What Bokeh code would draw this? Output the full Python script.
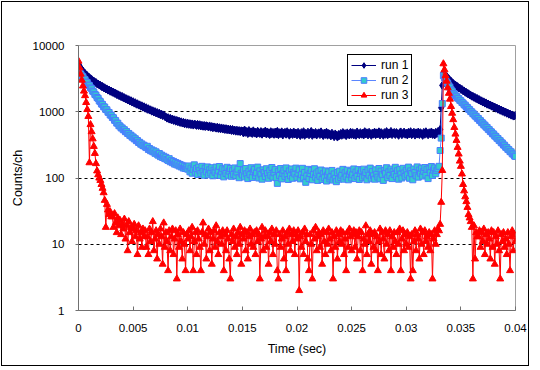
from bokeh.plotting import figure
from bokeh.models import (Range1d, FixedTicker, CustomJSTickFormatter, Legend,
                          LegendItem, Label, ColumnDataSource)
from bokeh.embed import file_html
from bokeh.resources import INLINE

FONT = "Liberation Sans"
TITLE = "2009/3/4  FFAG-KUCA ADS Experiment"
BIN = 0.0001  # time bin width (sec)

x_ticks = [0, 0.005, 0.01, 0.015, 0.02, 0.025, 0.03, 0.035, 0.04]
y_ticks = [1, 10, 100, 1000, 10000]
grid_ticks = [10, 100, 1000]

run1 = [
    5200, 4820, 4600, 4290, 4120, 3890, 3790, 3580, 3510, 3330,
    3280, 3140, 3080, 2930, 2910, 2780, 2760, 2640, 2620, 2530,
    2510, 2400, 2410, 2310, 2300, 2210, 2210, 2120, 2130, 2040,
    2050, 1970, 1970, 1900, 1900, 1820, 1820, 1760, 1750, 1690,
    1700, 1630, 1630, 1570, 1570, 1510, 1520, 1450, 1470, 1400,
    1420, 1350, 1370, 1300, 1320, 1260, 1270, 1210, 1230, 1170,
    1190, 1130, 1150, 1090, 1110, 1060, 1070, 1020, 1035, 990,
    1005, 960, 975, 930, 950, 900, 920, 875, 895, 850,
    835, 800, 815, 775, 795, 755, 775, 740, 755, 720,
    740, 705, 722, 690, 705, 675, 692, 660, 680, 650,
    672, 645, 661, 638, 655, 629, 650, 641, 622, 645,
    618, 637, 610, 625, 604, 622, 598, 615, 606, 590,
    611, 584, 598, 572, 590, 580, 566, 585, 560, 574,
    552, 570, 548, 561, 540, 556, 535, 548, 530, 545,
    522, 540, 515, 530, 509, 527, 506, 520, 500, 516,
    512, 478, 530, 489, 505, 468, 521, 482, 497, 470,
    515, 476, 492, 462, 508, 484, 470, 502, 458, 490,
    478, 510, 461, 495, 472, 452, 500, 467, 488, 456,
    493, 461, 506, 450, 482, 470, 497, 445, 476, 489,
    458, 500, 468, 443, 486, 472, 455, 495, 462, 478,
    447, 490, 466, 438, 484, 455, 500, 441, 472, 460,
    492, 449, 470, 505, 440, 478, 459, 487, 445, 468,
    481, 452, 497, 462, 437, 476, 455, 490, 443, 470,
    458, 432, 475, 448, 420, 462, 440, 415, 453, 437,
    470, 441, 486, 452, 468, 436, 480, 458, 446, 490,
    455, 483, 447, 472, 440, 495, 461, 450, 484, 458,
    476, 445, 500, 462, 481, 447, 490, 466, 440, 478,
    459, 492, 451, 480, 463, 498, 446, 485, 467, 442,
    484, 457, 502, 448, 479, 463, 505, 452, 475, 488,
    453, 486, 466, 441, 482, 496, 450, 470, 493, 458,
    475, 447, 489, 462, 500, 451, 473, 491, 444, 480,
    460, 494, 452, 483, 466, 440, 488, 457, 499, 471,
    449, 482, 463, 495, 455, 476, 446, 490, 468, 502,
    480, 540, 1150, 2500,
    3900, 3720, 3540, 3400, 3230, 3120, 2960, 2890, 2740, 2680,
    2560, 2530, 2420, 2400, 2290, 2280, 2180, 2170, 2070, 2060,
    1970, 1960, 1880, 1870, 1800, 1780, 1720, 1710, 1650, 1640,
    1580, 1580, 1520, 1520, 1460, 1460, 1400, 1410, 1350, 1360,
    1300, 1310, 1260, 1265, 1215, 1220, 1170, 1178, 1130, 1136,
    1090, 1097, 1052, 1060, 1017, 1023, 982, 990, 950, 955,
    918, 925, 888, 895, 860, 868, 885,
]

run2 = [
    4100, 3850, 3720, 3480, 3370, 3130, 3040, 2820, 2750, 2540,
    2480, 2300, 2230, 2050, 1990, 1830, 1780, 1640, 1590, 1460,
    1420, 1310, 1290, 1190, 1175, 1080, 1070, 985, 975, 895,
    885, 820, 810, 745, 735, 675, 670, 615, 610, 570,
    570, 535, 535, 500, 502, 470, 470, 440, 442, 414,
    416, 390, 391, 366, 367, 344, 346, 324, 327, 308,
    312, 296, 288, 301, 270, 279, 258, 266, 249, 257,
    236, 248, 229, 221, 234, 210, 222, 204, 213, 196,
    205, 190, 184, 196, 176, 183, 170, 178, 162, 171,
    158, 166, 152, 160, 147, 155, 141, 150, 139, 146, 136,
    152, 124, 141, 118, 135, 158, 122, 139, 113, 146,
    130, 117, 150, 126, 110, 141, 124, 147, 112, 133,
    119, 143, 108, 131, 122, 146, 111, 128, 149, 109,
    124, 138, 104, 133, 117, 145, 110, 127, 139, 106,
    129, 113, 142, 108, 123, 136, 101, 165, 118, 111,
    132, 104, 139, 116, 98, 127, 112, 143, 102, 124,
    135, 108, 119, 146, 100, 128, 114, 96, 133, 121,
    105, 138, 117, 99, 129, 110, 144, 103, 120, 134,
    101, 83, 126, 109, 139, 97, 118, 131, 106, 142,
    113, 95, 128, 108, 137, 99, 122, 115, 141, 102,
    118, 133, 97, 112, 140, 101, 121, 86, 107, 135,
    98, 117, 130, 94, 113, 138, 103, 119, 92, 126,
    106, 132, 95, 116, 101, 128, 90, 111, 124, 97,
    104, 130, 93, 115, 99, 88, 121, 96, 127, 102,
    110, 135, 96, 120, 104, 131, 94, 114, 126, 100,
    112, 137, 98, 123, 106, 134, 95, 117, 129, 101,
    136, 107, 121, 94, 132, 110, 141, 99, 125, 108,
    96, 133, 114, 103, 139, 97, 127, 112, 92, 130,
    118, 143, 101, 124, 109, 136, 98, 126, 113, 145,
    105, 129, 96, 134, 115, 100, 140, 119, 106, 131,
    112, 146, 99, 128, 117, 94, 137, 121, 108, 147,
    103, 132, 118, 140, 107, 126, 144, 111, 135, 98,
    138, 120, 149, 109, 131, 142, 116, 130, 138,
    150, 260, 400, 1330, 3500,
    3250, 3060, 2820, 2680, 2460, 2340, 2150, 2050, 1880,
    1850, 1740, 1710, 1610, 1580, 1490, 1465, 1380, 1355, 1275,
    1255, 1180, 1160, 1095, 1075, 1010, 995, 935, 920, 865,
    852, 800, 790, 742, 730, 686, 676, 635, 626, 588,
    580, 544, 536, 503, 496, 466, 460, 431, 425, 399,
    393, 369, 364, 341, 337, 316, 312, 292, 288, 271,
    267, 250, 248, 232, 229, 215, 212,
]

run3 = [
    5800, 4600, 3700, 3000, 2450, 2050, 1750, 1380, 1080, 850,
    170, 640, 500, 390, 300, 235, 165, 128, 112, 100,
    92, 80, 70, 60, 46, 18, 40, 33, 28, 31, 26,
    26, 18, 29, 21, 15, 25, 19, 23, 14, 20,
    17, 24, 12, 19, 8, 22, 15, 18, 11, 17,
    20, 13, 16, 7, 19, 12, 15, 9, 17, 13,
    16, 9, 13, 7, 17, 11, 15, 22, 8, 12,
    16, 6, 14, 10, 17, 13, 5, 21, 9, 15,
    11, 4, 16, 8, 13, 17, 7, 12, 16, 3,
    14, 9, 17, 11, 6, 15, 10, 4, 14, 12,
    16, 8, 13, 18, 4, 11, 15, 7, 16, 12,
    9, 4, 15, 21, 10, 14, 6, 13, 17, 8,
    15, 5, 12, 16, 9, 19, 11, 7, 15, 13,
    10, 16, 4, 14, 8, 16, 12, 6, 3, 14,
    11, 17, 9, 13, 7, 15, 10, 18, 5, 14,
    12, 16, 8, 15, 6, 13, 17, 10, 14, 9,
    15, 7, 16, 11, 14, 3, 12, 18, 8, 13,
    16, 9, 13, 5, 15, 11, 17, 7, 14, 10,
    16, 4, 3, 14, 9, 12, 16, 6, 13, 4,
    15, 10, 17, 8, 14, 11, 16, 7, 14, 12,
    16, 2, 13, 9, 15, 7, 17, 11, 14, 6,
    4, 14, 10, 3, 16, 12, 18, 8, 13, 15,
    9, 14, 5, 16, 11, 7, 15, 10, 17, 12,
    8, 15, 3, 13, 9, 16, 6, 14, 11, 16,
    10, 15, 7, 12, 4, 15, 9, 17, 13, 8,
    14, 16, 9, 15, 6, 13, 16, 8, 15, 4,
    12, 10, 19, 7, 14, 11, 16, 5, 14, 9,
    15, 8, 13, 4, 11, 17, 7, 15, 12, 6,
    16, 10, 14, 8, 16, 4, 13, 9, 15, 11,
    7, 15, 10, 17, 4, 12, 16, 8, 14, 10,
    15, 9, 13, 3, 14, 4, 11, 16, 8, 14,
    12, 6, 17, 10, 15, 7, 16, 11, 13, 9,
    15, 8, 14, 3, 12, 16, 10,
    14, 17, 16, 20, 43, 130, 5300,
    4300, 3500, 2900, 2300, 1900, 1550, 1200, 950, 760, 580,
    460, 370, 290, 230, 180, 150, 115, 80, 64, 52,
    44, 36, 28, 25, 22, 18, 3, 19, 6, 15, 13,
    13, 16, 9, 15, 11, 17, 7, 14, 10, 15,
    12, 6, 16, 9, 15, 5, 13, 10, 16, 8,
    3, 14, 11, 15, 9, 12, 7, 15, 10, 4,
    13, 16, 8, 14, 11,
]

p = figure(width=528, height=365,
           x_range=Range1d(0, 0.04), y_range=Range1d(1, 10000),
           y_axis_type="log", output_backend="svg", toolbar_location=None,
           min_border_left=76, min_border_right=15,
           min_border_top=43, min_border_bottom=57,
           background_fill_color="white", border_fill_color="white",
           outline_line_color="#a0a0a0",
           styles={"border": "1px solid black", "margin-left": "1px",
                   "margin-top": "1px"})


def draw(ys, line_color, marker, size, fill, edge):
    src = ColumnDataSource(dict(t=[i * BIN for i in range(len(ys))], y=ys))
    ln = p.line("t", "y", source=src, line_color=line_color, line_width=1)
    sc = p.scatter("t", "y", source=src, marker=marker, size=size,
                   fill_color=fill, line_color=edge, line_width=1)
    return [ln, sc]


r1 = draw(run1, "#000080", "diamond", 8, "#000080", "#000080")
r2 = draw(run2, "#5b86ff", "square", 6, "#33cccc", "#4a7dff")
r3 = draw(run3, "#ff0000", "triangle", 7, "#ff0000", "#ff0000")

# axes
xa = p.xaxis[0]
xa.ticker = FixedTicker(ticks=x_ticks)
xa.formatter = CustomJSTickFormatter(code="return String(Number(tick.toFixed(4)));")
xa.major_tick_in = 4
xa.major_tick_out = 0
xa.minor_tick_line_color = None
xa.axis_line_color = "#707070"
xa.major_tick_line_color = "#707070"
xa.major_label_standoff = 13
xa.major_label_text_font = FONT
xa.major_label_text_font_size = "11.5px"
xa.major_label_text_color = "black"
xa.axis_label = "Time (sec)"
xa.axis_label_text_font = FONT
xa.axis_label_text_font_size = "12.5px"
xa.axis_label_text_font_style = "normal"
xa.axis_label_text_color = "black"
xa.axis_label_standoff = 7

ya = p.yaxis[0]
ya.ticker = FixedTicker(ticks=y_ticks)
ya.formatter = CustomJSTickFormatter(code="return String(Math.round(tick));")
ya.major_tick_in = 0
ya.major_tick_out = 3
ya.minor_tick_line_color = None
ya.axis_line_color = "#707070"
ya.major_tick_line_color = "#707070"
ya.major_label_standoff = 11
ya.major_label_text_font = FONT
ya.major_label_text_font_size = "11.5px"
ya.major_label_text_color = "black"
ya.axis_label = "Counts/ch"
ya.axis_label_text_font = FONT
ya.axis_label_text_font_size = "12.5px"
ya.axis_label_text_font_style = "normal"
ya.axis_label_text_color = "black"
ya.axis_label_standoff = 5

p.xgrid.visible = False
p.ygrid.ticker = FixedTicker(ticks=grid_ticks)
p.ygrid.grid_line_color = "black"
p.ygrid.grid_line_dash = "3 3"
p.ygrid.grid_line_width = 1

legend = Legend(items=[LegendItem(label="run 1", renderers=r1),
                       LegendItem(label="run 2", renderers=r2),
                       LegendItem(label="run 3", renderers=r3)],
                location=(269, 204), orientation="vertical",
                label_text_font=FONT, label_text_font_size="12px",
                label_text_color="black",
                border_line_color="black", border_line_width=1,
                border_line_alpha=1.0,
                background_fill_color="white", background_fill_alpha=1.0,
                padding=3, spacing=1, margin=0,
                glyph_height=14, glyph_width=25, label_height=14,
                label_standoff=5)
p.add_layout(legend)

p.add_layout(Label(x=192, y=292, x_units="screen", y_units="screen",
                   text=TITLE, text_align="center", text_baseline="middle",
                   text_font=FONT, text_font_size="13.5px",
                   text_color="black"))

open("out.html", "w").write(file_html(p, INLINE))
